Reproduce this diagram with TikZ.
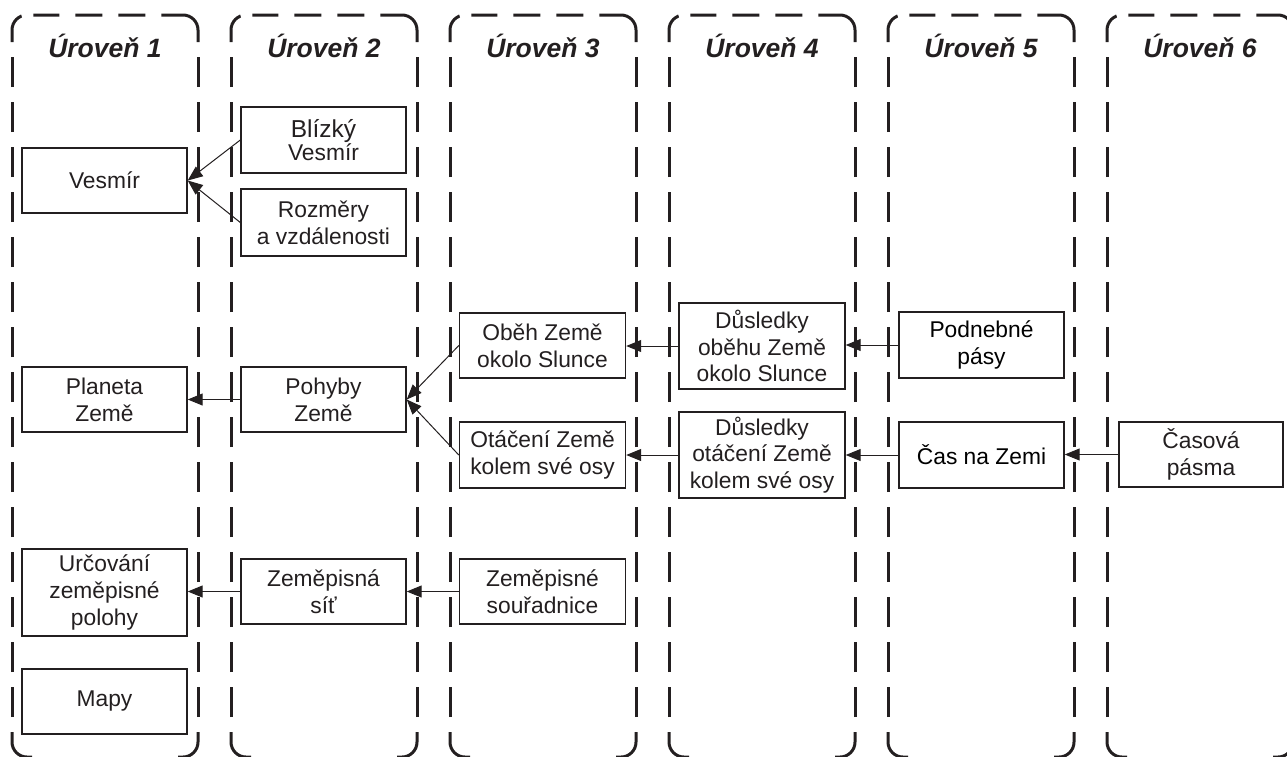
\documentclass[tikz,border=0pt]{standalone}
\usepackage{fontspec}
\setmainfont{Liberation Sans}
\usetikzlibrary{arrows.meta}
\definecolor{ink}{HTML}{231F20}
\begin{document}
\begin{tikzpicture}[x=1pt,y=-1pt,
  lane/.style={line width=3pt, draw=ink},
  box/.style={draw=ink, line width=1.4pt, minimum width=165pt, inner sep=0pt, align=center, text=ink, font=\fontsize{22.8}{26.8}\selectfont},
  hdr/.style={font=\fontsize{26.5}{30}\selectfont\bfseries\itshape, text=ink, anchor=base},
  arr/.style={-{Triangle[length=15pt,width=12pt]}, line width=1pt, draw=ink}]
\useasboundingbox (0,0) rectangle (1287,756);
\clip (0,0) rectangle (1287,756);
\foreach \i [evaluate=\i as \xa using 12+219*\i, evaluate=\i as \xb using 198+219*\i, evaluate=\i as \xc using 105+219*\i, evaluate=\i as \n using int(\i+1)] in {0,...,5}{
  \draw[lane, rounded corners=15pt] (\xa,732) -- (\xa,757) -- (\xa+20,757);
  \draw[lane, rounded corners=15pt] (\xb,732) -- (\xb,757) -- (\xb-20,757);
  \draw[lane, dash pattern=on 30pt off 15pt, dash phase=30pt] (\xa,732) -- (\xa,44);
  \draw[lane, dash pattern=on 30pt off 15pt, dash phase=30pt] (\xb,732) -- (\xb,44);
  \draw[lane, rounded corners=15pt, dash pattern=on 30pt off 12pt on 26pt off 16pt on 27pt off 16pt on 27pt off 16pt on 60pt off 0pt] (\xa,42) -- (\xa,15) -- (\xb,15) -- (\xb,42);
  \node[hdr] (h\n) at (\xc,57) {Úroveň \n};
}
\node[box, minimum height=65pt] (vesmir) at (104.5,180.5) {Vesmír};
\node[box, minimum height=65pt] (planeta) at (104.5,399.5) {Planeta\\Země};
\node[box, minimum height=87pt] (urc) at (104.5,592.5) {Určování\\zeměpisné\\polohy};
\node[box, minimum height=65pt] (mapy) at (104.5,701.5) {Mapy};
\node[box, minimum height=66pt] (blizky) at (323.5,140) {{\fontsize{24.5}{27}\selectfont Blízký}\\[-4pt]Vesmír};
\node[box, minimum height=67pt] (rozmery) at (323.5,222.5) {Rozměry\\a vzdálenosti};
\node[box, minimum height=65pt] (pohyby) at (323.5,399.5) {Pohyby\\Země};
\node[box, minimum height=65pt] (sit) at (323.5,591.5) {Zeměpisná\\síť};
\node[box, minimum width=166pt, minimum height=65pt] (obeh) at (542.5,345.5) {Oběh Země\\okolo Slunce};
\node[box, minimum width=166pt, minimum height=66pt] (otaceni) at (542.5,455) {Otáčení Země\\kolem své osy};
\node[box, minimum width=166pt, minimum height=65pt] (souradnice) at (542.5,591.5) {Zeměpisné\\souřadnice};
\node[box, minimum width=166pt, minimum height=86pt] (dus1) at (762,346) {Důsledky\\oběhu Země\\okolo Slunce};
\node[box, minimum width=166pt, minimum height=86pt] (dus2) at (762,455) {Důsledky\\otáčení Země\\kolem své osy};
\node[box, minimum height=66pt, text=black] (podnebne) at (981.5,345) {Podnebné\\pásy};
\node[box, minimum height=66pt, text=black] (cas) at (981.5,455) {Čas na Zemi};
\node[box, minimum width=164pt, minimum height=65pt] (casova) at (1201,454.5) {Časová\\pásma};
\draw[arr] (blizky.west) -- (vesmir.east);
\draw[arr] (rozmery.west) -- (vesmir.east);
\draw[arr] (pohyby.west) -- (planeta.east);
\draw[arr] (obeh.west) -- (pohyby.east);
\draw[arr] (otaceni.west) -- (pohyby.east);
\draw[arr] (sit.west) -- (sit.west -| urc.east);
\draw[arr] (souradnice.west) -- (souradnice.west -| sit.east);
\draw[arr] (dus1.west) -- (dus1.west -| obeh.east);
\draw[arr] (podnebne.west) -- (podnebne.west -| dus1.east);
\draw[arr] (dus2.west) -- (dus2.west -| otaceni.east);
\draw[arr] (cas.west) -- (cas.west -| dus2.east);
\draw[arr] (casova.west) -- (casova.west -| cas.east);
\end{tikzpicture}
\end{document}
